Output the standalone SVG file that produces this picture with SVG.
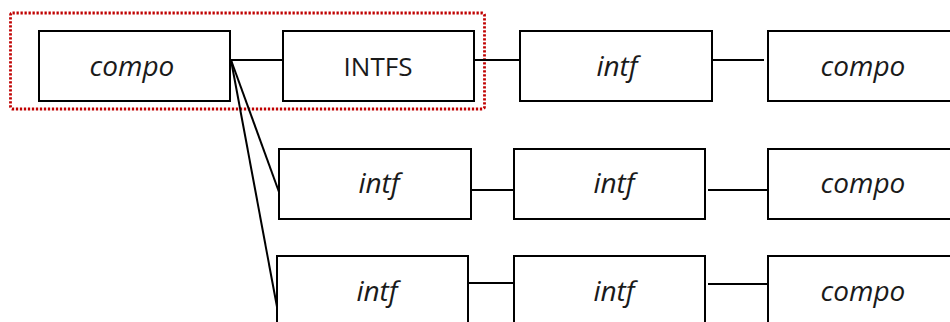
<svg xmlns="http://www.w3.org/2000/svg" width="950" height="322" viewBox="0 0 950 322">
  <style>
    .box { fill: #ffffff; stroke: #000000; stroke-width: 2; }
    .link { stroke: #000000; stroke-width: 2; fill: none; }
    .lbl { font-family: "Open Sans", "DejaVu Sans", sans-serif; font-size: 26px; fill: #1a1a1a; text-anchor: middle; }
    .it { font-style: italic; font-size: 28px; }
    .group { fill: none; stroke: #c00000; stroke-width: 2.8; stroke-dasharray: 2.3 1.7; }
  </style>

  <!-- highlighted selection around the first pair -->
  <rect class="group" x="10.5" y="13" width="474" height="96" rx="2" ry="2"/>

  <!-- connectors -->
  <g id="connectors">
    <line class="link" x1="230" y1="60" x2="283" y2="60"/>
    <line class="link" x1="474" y1="60" x2="520" y2="60"/>
    <line class="link" x1="712" y1="60" x2="764" y2="60"/>
    <line class="link" x1="231" y1="60" x2="279" y2="192"/>
    <line class="link" x1="231" y1="60" x2="277" y2="307"/>
    <line class="link" x1="468" y1="190" x2="514" y2="190"/>
    <line class="link" x1="708" y1="190" x2="768" y2="190"/>
    <line class="link" x1="468" y1="283" x2="514" y2="283"/>
    <line class="link" x1="708" y1="284" x2="768" y2="284"/>
  </g>

  <!-- row 1 -->
  <g id="n-compo-1">
    <rect class="box" x="39" y="31" width="191" height="70"/>
    <text class="lbl it" x="132" y="76">compo</text>
  </g>
  <g id="n-intfs">
    <rect class="box" x="283" y="31" width="191" height="70"/>
    <text class="lbl" x="378" y="76">INTFS</text>
  </g>
  <g id="n-intf-1">
    <rect class="box" x="520" y="31" width="192" height="70"/>
    <text class="lbl it" x="617" y="76">intf</text>
  </g>
  <g id="n-compo-2">
    <rect class="box" x="768" y="31" width="191" height="70"/>
    <text class="lbl it" x="863" y="76">compo</text>
  </g>

  <!-- row 2 -->
  <g id="n-intf-2">
    <rect class="box" x="279" y="149" width="192" height="70"/>
    <text class="lbl it" x="379" y="193">intf</text>
  </g>
  <g id="n-intf-3">
    <rect class="box" x="514" y="149" width="191" height="70"/>
    <text class="lbl it" x="614" y="193">intf</text>
  </g>
  <g id="n-compo-3">
    <rect class="box" x="768" y="149" width="191" height="70"/>
    <text class="lbl it" x="863" y="193">compo</text>
  </g>

  <!-- row 3 -->
  <g id="n-intf-4">
    <rect class="box" x="277" y="256" width="191" height="70"/>
    <text class="lbl it" x="377" y="301">intf</text>
  </g>
  <g id="n-intf-5">
    <rect class="box" x="514" y="256" width="191" height="70"/>
    <text class="lbl it" x="614" y="301">intf</text>
  </g>
  <g id="n-compo-4">
    <rect class="box" x="768" y="256" width="191" height="70"/>
    <text class="lbl it" x="863" y="301">compo</text>
  </g>
</svg>
